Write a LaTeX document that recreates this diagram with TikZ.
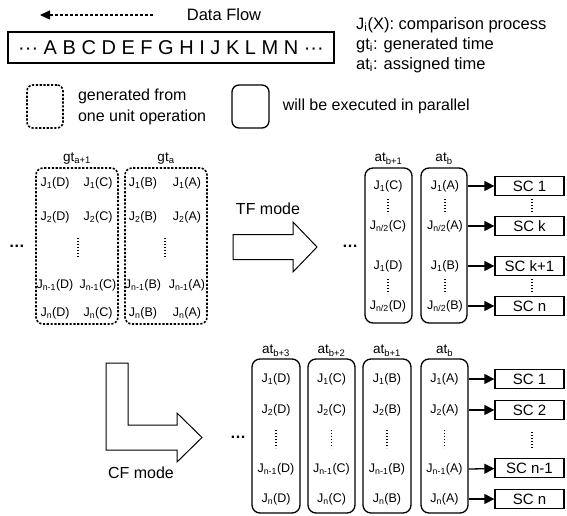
\documentclass[tikz,border=0pt]{standalone}
\usepackage{fontspec}
\setmainfont{Liberation Sans}
\usepackage{tikz}
\usetikzlibrary{arrows.meta,positioning}

\begin{document}
\begin{tikzpicture}[
    x=1pt, y=-1pt,
    cell/.style={inner sep=0pt, font=\fontsize{12.5}{14}\selectfont},
    lbl/.style={inner sep=0pt, font=\fontsize{13.5}{15}\selectfont},
    legend/.style={inner sep=0pt, font=\fontsize{16.5}{21}\selectfont, align=left},
    gtbox/.style={draw, rounded corners=7pt, line width=1.6pt, dash pattern=on 2.2pt off 1.6pt, minimum width=82pt, minimum height=156pt},
    atbox/.style={draw, rounded corners=8pt, line width=1.3pt, minimum width=47pt},
    scbox/.style={draw, line width=1.3pt, minimum width=69pt, minimum height=19pt, inner sep=0pt, font=\fontsize{15}{16}\selectfont},
    vdots/.style={line width=1.3pt, dash pattern=on 1.3pt off 1.7pt},
    flow/.style={line width=1.3pt, -{Triangle[length=10pt,width=10pt]}},
    bigarrow/.style={draw, line width=1pt, fill=white, line join=miter},
    more/.style={inner sep=0pt, font=\fontsize{16}{16}\selectfont\bfseries},
]
    \useasboundingbox (0,0) rectangle (567,516);

    % legend
    \coordinate (flowFrom) at (153,15);
    \coordinate (flowTo) at (40,15);
    \draw[line width=1.3pt, dash pattern=on 3pt off 2pt, -{Triangle[length=10pt,width=9pt]}] (flowFrom) -- (flowTo);
    \node[legend] (flowLbl) at (224,15) {Data Flow};
    \node[draw, line width=1.3pt, minimum width=326pt, minimum height=31pt, inner sep=0pt, font=\fontsize{20}{22}\selectfont] (stream) at (171,47.5) {··· A B C D E F G H I J K L M N ···};
    \node[legend, anchor=west] (keyJ) at (356,25) {J\textsubscript{i}(X): comparison process};
    \node[legend, anchor=west] (keyGt) at (356,45) {gt\textsubscript{i}: generated time};
    \node[legend, anchor=west] (keyAt) at (356,65) {at\textsubscript{i}: assigned time};
    \node[gtbox, minimum width=36pt, minimum height=43pt, rounded corners=6pt] (keyDot) at (45,106.5) {};
    \node[legend, font=\fontsize{16}{21}\selectfont, right=14pt of keyDot] (keyDotLbl) {generated from\\one unit operation};
    \node[atbox, minimum width=37pt, minimum height=43pt, rounded corners=7pt] (keySolid) at (250.5,106.5) {};
    \node[legend, font=\fontsize{16}{21}\selectfont, right=13pt of keySolid] (keySolidLbl) {will be executed in parallel};

    % generated
    \node[more] (genMore) at (17,246) {…};
    \node[gtbox] (gtNext) at (77,246) {};
    \node[gtbox] (gtCur) at (166,246) {};
    \node[lbl, above=3pt of gtNext] {gt\textsubscript{a+1}};
    \node[lbl, above=3pt of gtCur] {gt\textsubscript{a}};
    \node[cell] (gD1) at (55,183) {J\textsubscript{1}(D)};
    \node[cell] (gD2) at (55,217) {J\textsubscript{2}(D)};
    \node[cell] (gDm) at (55,285) {J\textsubscript{n-1}(D)};
    \node[cell] (gDn) at (55,313) {J\textsubscript{n}(D)};
    \node[cell] (gC1) at (98,183) {J\textsubscript{1}(C)};
    \node[cell] (gC2) at (98,217) {J\textsubscript{2}(C)};
    \node[cell] (gCm) at (98,285) {J\textsubscript{n-1}(C)};
    \node[cell] (gCn) at (98,313) {J\textsubscript{n}(C)};
    \node[cell] (gB1) at (143,183) {J\textsubscript{1}(B)};
    \node[cell] (gB2) at (143,217) {J\textsubscript{2}(B)};
    \node[cell] (gBm) at (143,285) {J\textsubscript{n-1}(B)};
    \node[cell] (gBn) at (143,313) {J\textsubscript{n}(B)};
    \node[cell] (gA1) at (187,183) {J\textsubscript{1}(A)};
    \node[cell] (gA2) at (187,217) {J\textsubscript{2}(A)};
    \node[cell] (gAm) at (187,285) {J\textsubscript{n-1}(A)};
    \node[cell] (gAn) at (187,313) {J\textsubscript{n}(A)};
    \draw[vdots] (78,238) -- (78,257);
    \draw[vdots] (165,238) -- (165,257);

    % TF mode
    \draw[bigarrow] (233,234.5) -- (293,234.5) -- (293,222) -- (317,247) -- (293,272) -- (293,259.5) -- (233,259.5) -- cycle;
    \node[legend, font=\fontsize{16}{16}\selectfont] (tfLbl) at (268,209) {TF mode};
    \node[more] (tfMore) at (350,246) {…};
    \node[atbox, minimum height=155pt] (tfB1) at (388.5,245.5) {};
    \node[atbox, minimum height=155pt, minimum width=46pt] (tfB) at (444,245.5) {};
    \node[lbl, above=3pt of tfB1] {at\textsubscript{b+1}};
    \node[lbl, above=3pt of tfB] {at\textsubscript{b}};
    \node[cell] (tC1) at (388,186) {J\textsubscript{1}(C)};
    \node[cell] (tCh) at (388,226) {J\textsubscript{n/2}(C)};
    \node[cell] (tD1) at (388,266) {J\textsubscript{1}(D)};
    \node[cell] (tDh) at (388,306) {J\textsubscript{n/2}(D)};
    \node[cell] (tA1) at (445,186) {J\textsubscript{1}(A)};
    \node[cell] (tAh) at (445,226) {J\textsubscript{n/2}(A)};
    \node[cell] (tB1) at (445,266) {J\textsubscript{1}(B)};
    \node[cell] (tBh) at (445,306) {J\textsubscript{n/2}(B)};
    \draw[vdots] (388,199) -- (388,214);
    \draw[vdots] (388,279) -- (388,294);
    \draw[vdots] (445,199) -- (445,214);
    \draw[vdots] (445,279) -- (445,294);
    \node[scbox] (scT1) at (529.5,186) {SC 1};
    \node[scbox] (scTk) at (529.5,226) {SC k};
    \node[scbox] (scTk1) at (529.5,266) {SC k+1};
    \node[scbox] (scTn) at (529.5,306) {SC n};
    \draw[vdots] (532,199) -- (532,213);
    \draw[vdots] (532,279) -- (532,293);
    \draw[flow] (tA1 -| tfB.east) -- (scT1);
    \draw[flow] (tAh -| tfB.east) -- (scTk);
    \draw[flow] (tB1 -| tfB.east) -- (scTk1);
    \draw[flow] (tBh -| tfB.east) -- (scTn);

    % CF mode
    \draw[bigarrow] (106,363) -- (128,363) -- (128,425) -- (177,425) -- (177,413) -- (202,437.5) -- (177,462) -- (177,450) -- (106,450) -- cycle;
    \node[legend, font=\fontsize{16}{16}\selectfont] (cfLbl) at (141,473) {CF mode};
    \node[more] (cfMore) at (238,437) {…};
    \node[atbox, minimum height=154pt, minimum width=48pt] (cfB3) at (276,436) {};
    \node[atbox, minimum height=154pt] (cfB2) at (331.5,436) {};
    \node[atbox, minimum height=154pt, minimum width=48pt] (cfB1) at (387,436) {};
    \node[atbox, minimum height=154pt] (cfB) at (444.5,436) {};
    \node[lbl, above=2pt of cfB3] {at\textsubscript{b+3}};
    \node[lbl, above=2pt of cfB2] {at\textsubscript{b+2}};
    \node[lbl, above=2pt of cfB1] {at\textsubscript{b+1}};
    \node[lbl, above=2pt of cfB] {at\textsubscript{b}};
    \node[cell] (cD1) at (276,379) {J\textsubscript{1}(D)};
    \node[cell] (cD2) at (276,410) {J\textsubscript{2}(D)};
    \node[cell] (cDm) at (276,469) {J\textsubscript{n-1}(D)};
    \node[cell] (cDn) at (276,499) {J\textsubscript{n}(D)};
    \node[cell] (cC1) at (331.5,379) {J\textsubscript{1}(C)};
    \node[cell] (cC2) at (331.5,410) {J\textsubscript{2}(C)};
    \node[cell] (cCm) at (331.5,469) {J\textsubscript{n-1}(C)};
    \node[cell] (cCn) at (331.5,499) {J\textsubscript{n}(C)};
    \node[cell] (cB1) at (387,379) {J\textsubscript{1}(B)};
    \node[cell] (cB2) at (387,410) {J\textsubscript{2}(B)};
    \node[cell] (cBm) at (387,469) {J\textsubscript{n-1}(B)};
    \node[cell] (cBn) at (387,499) {J\textsubscript{n}(B)};
    \node[cell] (cA1) at (444.5,379) {J\textsubscript{1}(A)};
    \node[cell] (cA2) at (444.5,410) {J\textsubscript{2}(A)};
    \node[cell] (cAm) at (444.5,469) {J\textsubscript{n-1}(A)};
    \node[cell] (cAn) at (444.5,499) {J\textsubscript{n}(A)};
    \draw[vdots] (276,430) -- (276,448);
    \draw[vdots] (331.5,430) -- (331.5,448);
    \draw[vdots] (387,430) -- (387,448);
    \draw[vdots] (444.5,430) -- (444.5,448);
    \node[scbox] (scB1) at (529.5,379) {SC 1};
    \node[scbox] (scB2) at (529.5,410) {SC 2};
    \node[scbox] (scBm) at (529.5,468) {SC n-1};
    \node[scbox] (scBn) at (529.5,499) {SC n};
    \draw[vdots] (532,432) -- (532,448);
    \draw[flow] (cA1 -| cfB.east) -- (scB1);
    \draw[flow] (cA2 -| cfB.east) -- (scB2);
    \draw[flow] (cAm -| cfB.east) -- (scBm);
    \draw[flow] (cAn -| cfB.east) -- (scBn);
\end{tikzpicture}
\end{document}
